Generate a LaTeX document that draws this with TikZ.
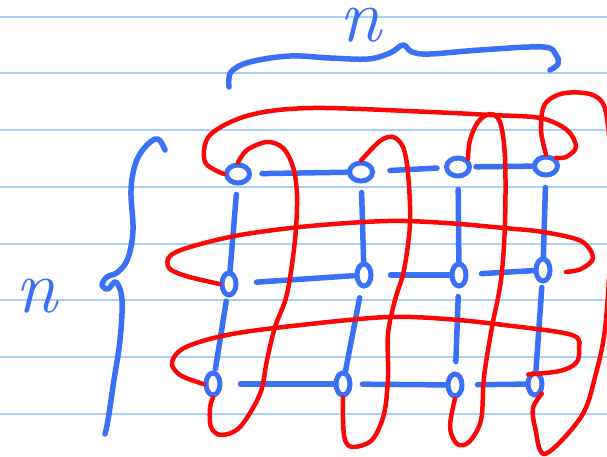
\documentclass[tikz,border=0pt]{standalone}
\usepackage{fontspec}
\usetikzlibrary{shapes.geometric}
\definecolor{penblue}{RGB}{58,112,246}
\definecolor{penred}{RGB}{250,8,8}
\definecolor{ruleblue}{RGB}{168,206,250}
\begin{document}
\begin{tikzpicture}[x=1pt,y=-1pt,
rule/.style={ruleblue,line width=1.6pt},
knot/.style={draw=penblue,line width=5pt,ellipse,inner sep=0pt,minimum width=14pt,minimum height=22pt},
flat/.style={knot,minimum width=23pt,minimum height=18pt},
strand/.style={penblue,line width=5.5pt,line cap=round},
loopline/.style={penred,line width=4.5pt,line cap=round,line join=round},
brace/.style={penblue,line width=5.5pt,line cap=round,line join=round},
letter/.style={text=penblue,inner sep=0pt,font=\fontsize{76}{76}\selectfont\itshape}]
\useasboundingbox(0,0)rectangle(607,457);
% ruled paper
\foreach \y in {17,73,130,187,244,300,357,414}\draw[rule](0,\y)--(607,\y);
% knots
\node[flat](k11) at (238,174){};\node[flat](k12) at (361,172){};\node[flat](k13) at (458,167){};\node[flat](k14) at (546,166){};
\node[knot](k21) at (229,284){};\node[knot](k22) at (364,275){};\node[knot](k23) at (459,275){};\node[knot](k24) at (543,270){};
\node[knot](k31) at (213,384){};\node[knot](k32) at (343,384){};\node[knot](k33) at (455,385){};\node[knot](k34) at (535,384){};
% blue strands
\draw[strand,shorten <=10pt](k11)--(k12);\draw[strand,shorten <=15pt,shorten >=7pt](k12)--(k13);\draw[strand,shorten <=4pt](k13)--(k14);
\draw[strand,shorten <=18pt](k21)--(k22);\draw[strand,shorten <=17pt](k22)--(k23);\draw[strand,shorten <=13pt](k23)--(k24);
\draw[strand,shorten <=18pt](k31)--(k32);\draw[strand,shorten <=10pt](k32)--(k33);\draw[strand,shorten <=13pt](k33)--(k34);
\draw[strand,shorten <=9pt](k11)--(k21);\draw[strand,shorten <=9pt](k12)--(k22);\draw[strand,shorten <=11pt](k13)--(k23);\draw[strand,shorten <=10pt](k14)--(k24);
\draw[strand,shorten <=4pt,shorten >=2pt](k21)--(k31);\draw[strand,shorten <=10pt](k22)--(k32);\draw[strand,shorten <=8pt,shorten >=10pt](k23)--(k33);\draw[strand,shorten <=4pt](k24)--(k34);
% red loops
\draw[loopline]plot[smooth,tension=.55]coordinates{(k11.west)(205,162)(210,135)(250,115)(313,108)(430,112)(490,115)(540,118)(567,130)(576,147)(566,157)(k14.north east)};
\draw[loopline]plot[smooth,tension=.55]coordinates{(k21.west)(186,276)(169,268)(170,256)(190,247)(240,235)(310,226)(388,221)(446,223)(504,228)(543,232)(581,241)(593,258)(581,269)(566,272)};
\draw[loopline]plot[smooth,tension=.55]coordinates{(k31.west)(180,375)(172,362)(186,347)(232,334)(310,324)(388,317)(446,319)(504,325)(572,335)(579,350)(576,363)(560,371)(k34.north west)};
\draw[loopline]plot[smooth,tension=.55]coordinates{(k11.north)(247,150)(267,142)(283,148)(293,167)(297,195)(295,240)(287,294)(275,327)(267,360)(260,394)(240,427)(221,435)(211,427)(210,408)(k31.south)};
\draw[loopline]plot[smooth,tension=.55]coordinates{(k12.north)(380,141)(393,137)(403,147)(408,173)(410,223)(404,270)(395,300)(388,334)(388,377)(384,414)(372,440)(353,447)(345,440)(343,420)(k32.south)};
\draw[loopline]plot[smooth,tension=.55]coordinates{(k13.north east)(470,140)(478,122)(490,114)(500,122)(505,157)(505,223)(501,280)(492,327)(484,377)(481,420)(469,442)(457,444)(450,427)(k33.south)};
\draw[loopline]plot[smooth,tension=.55]coordinates{(k14.north)(541,130)(545,104)(565,93)(595,96)(607,118)(612,200)(606,320)(595,377)(581,417)(545,454)(535,427)(533,408)(k34.south east)};
% braces and labels
\draw[brace]plot[smooth,tension=.6]coordinates{(229,87)(231,72)(250,62)(290,56)(330,58)(368,59)(390,53)(403,45)(412,52)(430,54)(480,50)(543,47)(556,55)(558,64)(550,70)};
\draw[brace]plot[smooth,tension=.6]coordinates{(165,150)(158,139)(147,145)(136,162)(131,190)(133,230)(128,258)(118,272)(107,277)(102,285)(108,289)(116,282)(122,300)(120,340)(114,380)(108,420)(105,434)};
\node[letter](ntop) at (360,25){n};
\node[letter](nleft) at (36,296){n};
\end{tikzpicture}
\end{document}
